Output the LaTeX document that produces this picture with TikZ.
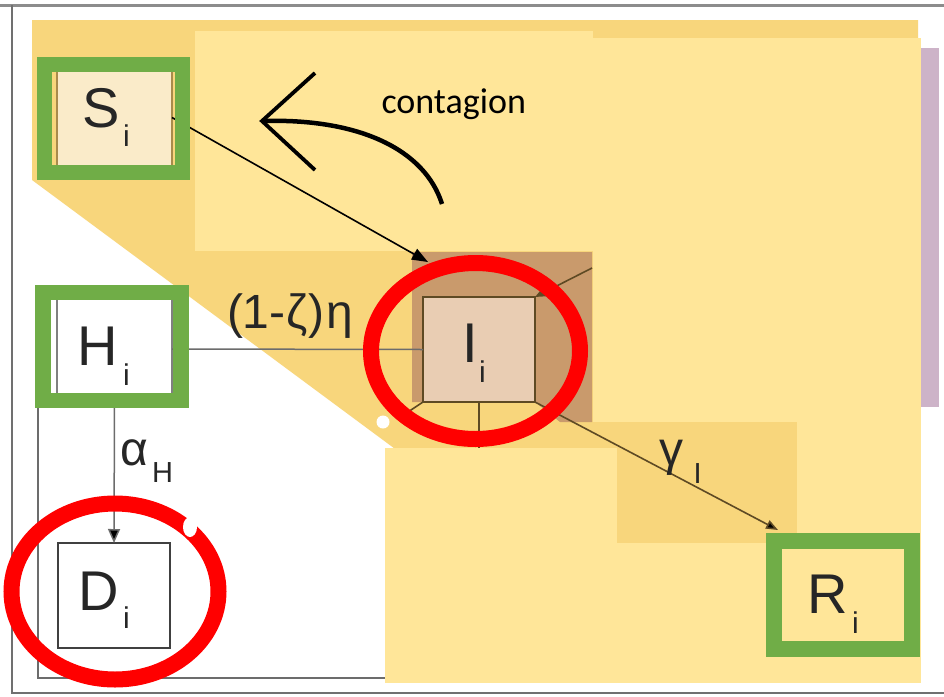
\documentclass[tikz,border=0pt]{standalone}
\usepackage{fontspec}
\setmainfont{Liberation Sans}
\newfontfamily\calib{Carlito}
\usetikzlibrary{arrows.meta}
\definecolor{goldbg}{HTML}{F8D67C}
\definecolor{paste}{HTML}{FFE699}
\definecolor{brownbg}{HTML}{C99A6C}
\definecolor{iboxfill}{HTML}{E9CDB3}
\definecolor{cream}{HTML}{FAEBC9}
\definecolor{okgreen}{HTML}{70AD47}
\definecolor{purp}{HTML}{CDB3C8}
\definecolor{olive}{HTML}{5E4A24}
\definecolor{creamline}{HTML}{A88B4C}
\definecolor{frameline}{HTML}{8C8C8C}
\begin{document}
\begin{tikzpicture}[x=1pt,y=-1pt,
  boxo/.style={draw, rectangle, inner sep=0pt, outer sep=0pt},
  gframe/.style={draw=okgreen, line width=15.5pt, rectangle, inner sep=0pt, outer sep=0pt, minimum width=138pt, minimum height=108pt},
  bigl/.style={inner sep=0pt, outer sep=0pt, anchor=base west, text=black!85, font=\fontsize{56}{56}\selectfont},
  subl/.style={inner sep=0pt, outer sep=0pt, anchor=base west, text=black!85, font=\fontsize{30}{30}\selectfont},
  ratel/.style={inner sep=0pt, outer sep=0pt, anchor=base west, text=black!85, font=\fontsize{48}{48}\selectfont},
  rsub/.style={inner sep=0pt, outer sep=0pt, anchor=base west, text=black!85, font=\fontsize{29}{29}\selectfont},
  grayconn/.style={draw=gray!85!black, line width=1.5pt},
  oliveconn/.style={draw=olive, line width=1.6pt},
  ring/.style={draw=red, line width=16pt}
]
\useasboundingbox (0,0) rectangle (944,696);
\fill[white] (0,0) rectangle (944,696);
% outer frame of the screenshot
\draw[frameline, line width=3pt] (0,5) -- (944,5);
\draw[frameline!80!black, line width=2pt] (12,5) -- (12,693) -- (944,693);
% gold background of the original figure
\fill[goldbg] (32,20) -- (918,20) -- (918,680) -- (707,680) -- (32,180) -- cycle;
\fill[purp] (921,48) rectangle (939,407);
% brown area around I
\fill[brownbg] (412,252) -- (592,252) -- (592,422) -- (560,422) -- (535,402) -- (412,402) -- cycle;

% original boxes
\node[boxo, fill=cream, draw=creamline, line width=1.5pt, minimum width=115pt, minimum height=105pt] (S) at (114.5,117.5) {};
\node[boxo, fill=white, draw=gray, line width=1.5pt, minimum width=115pt, minimum height=105pt] (H) at (114.5,349) {};
\node[boxo, fill=white, draw=black!75, line width=1.8pt, minimum width=112pt, minimum height=105pt] (D) at (114,595.5) {};
\node[boxo, fill=iboxfill, draw=olive, line width=2pt, minimum width=112pt, minimum height=105pt] (I) at (479,349.5) {};
\node[boxo, fill=cream, draw=creamline, line width=1.5pt, minimum width=116pt, minimum height=100pt] (R) at (844,595) {};

% original connectors
\coordinate (hl) at (38,408);
\coordinate (bl) at (38,678);
\coordinate (br) at (390,678);
\coordinate (trc) at (592,268);
\coordinate (blc) at (405,414);
\coordinate (bcc) at (479,448);
\coordinate (rtip) at (778,530);
\draw[grayconn] (hl) -- (bl) -- (br);
\draw[grayconn] (H.east) -- (I.west);
\draw[grayconn, -{Triangle[length=14pt,width=12pt,fill=black]}] (H.south) -- (D.north);
\draw[oliveconn, -{Triangle[length=11pt,width=9pt]}] (trc) -- (I.north east);
\draw[oliveconn] (I.south west) -- (blc);
\draw[oliveconn] (I.south) -- (bcc);
\draw[oliveconn, -{Triangle[length=12pt,width=9pt,fill=black]}] (I.south east) -- (rtip);

% labels of the original figure
\node[ratel] (zeta) at (227,328) {(1-\kern1ptζ\kern1pt)\kern2ptη};
\node[ratel] (alpha) at (120,465) {α};
\node[rsub] (alphaH) at (152,482) {H};
\node[ratel] (gamma) at (659,465) {γ};
\node[rsub] (gammaI) at (693.5,483) {I};

% pasted light rectangles
\fill[paste] (195,31) rectangle (593,251);
\fill[paste] (593,38) rectangle (921,422);
\fill[paste] (385,448) rectangle (617,683);
\fill[paste] (617,543) rectangle (921,683);
\fill[paste] (797,422) rectangle (921,543);

% S -> I arrow
\coordinate (itip) at (428,262);
\draw[black, line width=1.6pt, -{Triangle[length=16pt,width=12pt]}] (S.east) -- (itip);

% contagion symbol
\coordinate (cgA) at (262,121);
\coordinate (cgB) at (442,204);
\coordinate (cgU) at (315,73);
\coordinate (cgL) at (315,170);
\draw[black, line width=4.5pt] (cgA) .. controls (360,118) and (425,150) .. (cgB);
\draw[black, line width=3.8pt, line join=miter] (cgU) -- (cgA) -- (cgL);
\node[inner sep=0pt, outer sep=0pt, anchor=base west, font=\calib\fontsize{36}{36}\selectfont] (cont) at (381.5,113) {contagion};

% compartment letters
\node[bigl] (Sl) at (82.4,127) {S};
\node[subl] (Ss) at (123,146) {i};
\node[bigl] (Hl) at (77.6,365) {H};
\node[subl] (Hs) at (123,385) {i};
\node[bigl] (Il) at (462.7,362) {I};
\node[subl] (Is) at (479,382) {i};
\node[bigl] (Dl) at (78.6,610) {D};
\node[subl] (Ds) at (123,628) {i};
\node[bigl] (Rl) at (807.5,613) {R};
\node[subl] (Rs) at (852,633) {i};

% green frames
\node[gframe] (Sg) at (113.5,118.5) {};
\node[gframe] (Hg) at (112,346.5) {};
\node[gframe] (Rg) at (843,595) {};

% red rings
\draw[ring] (475.5,351) ellipse [x radius=104.5pt, y radius=88pt];
\draw[ring] (115,591.5) ellipse [x radius=103.5pt, y radius=88pt];
\fill[white] (383,422) circle [radius=6.5pt];
\fill[white] (190,527) ellipse [x radius=7pt, y radius=10pt];
\end{tikzpicture}
\end{document}
